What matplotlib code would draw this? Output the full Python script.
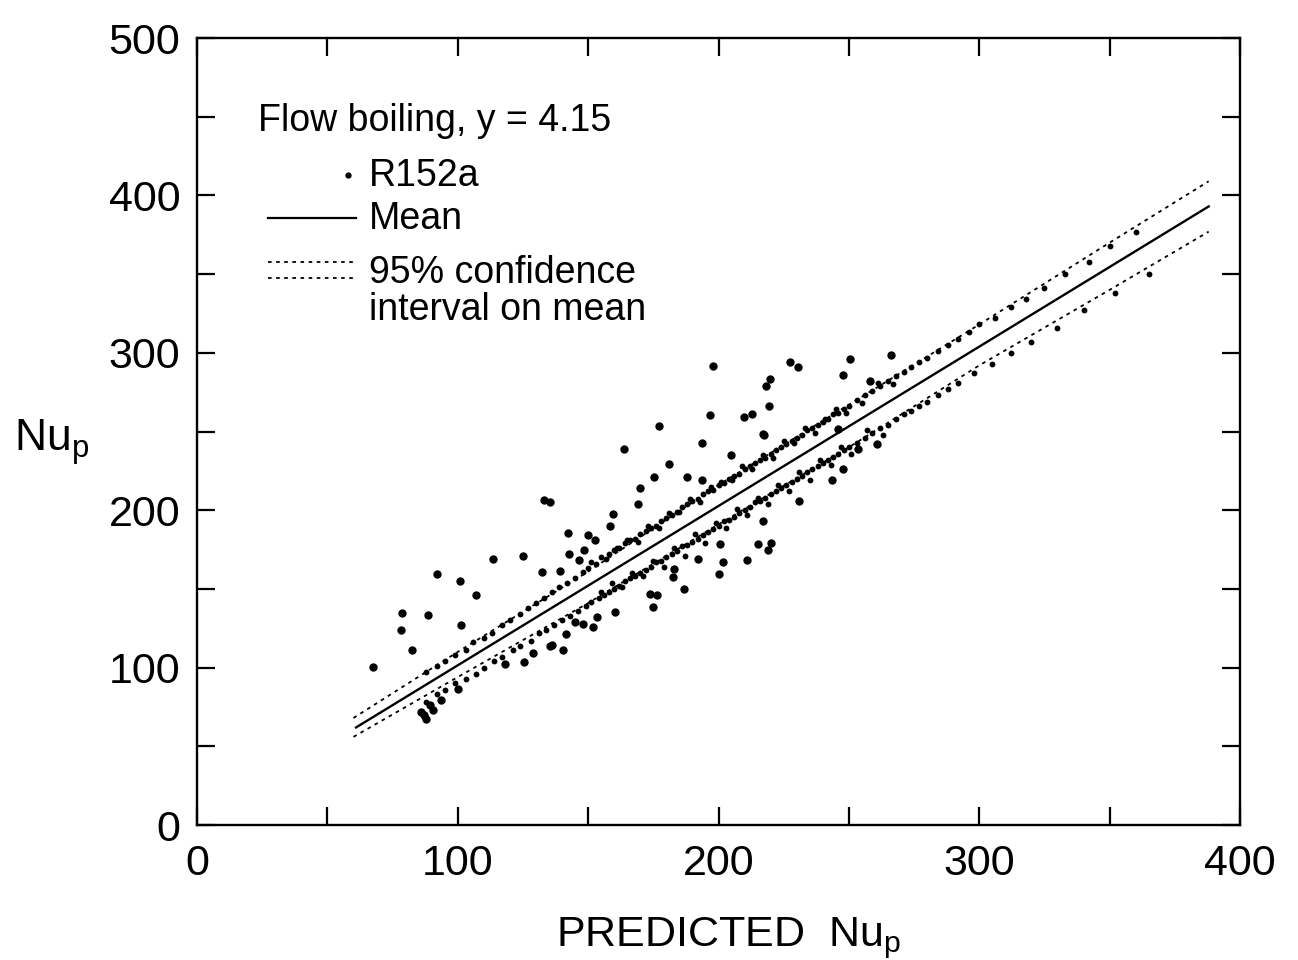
import matplotlib.pyplot as plt
from matplotlib.ticker import MultipleLocator, FuncFormatter

plt.rcParams['font.family'] = ['Liberation Sans', 'DejaVu Sans']
plt.rcParams['mathtext.fontset'] = 'custom'
plt.rcParams['mathtext.rm'] = 'Liberation Sans'

# mean line and 95% confidence interval
mean_x = [61, 388]
mean_y = [62, 393]
ci_x = [60, 100, 150, 200, 250, 300, 350, 388]
ci_upper = [68, 110, 161, 216, 267, 318, 370, 409]
ci_lower = [56, 94, 141, 191, 240, 292, 340, 377]

# scattered R152a points
scatter_x = [67.4, 78.5, 78.2, 88.5, 82.4, 92.0, 100.8, 106.9, 113.4, 124.9, 132.2, 101.1,
             87.7, 93.5, 100.0, 118.0, 125.3, 128.7, 135.2, 89.3,
             132.9, 135.5, 163.6, 177.0, 196.6, 209.6, 213.0, 217.2, 193.5, 204.6, 181.2, 175.1,
             169.7, 169.3, 159.4, 158.2, 142.1, 149.8, 152.5, 148.3, 142.5, 139.1, 146.4,
             188.1, 193.5, 200.4, 201.9, 200.0, 211.1, 215.3, 216.9, 186.6, 174.7, 176.6,
             160.2, 153.3, 151.7, 147.9, 144.8, 141.4, 136.0, 140.2, 183.1, 182.4, 173.6, 192.0,
             227.6, 230.3, 250.6, 266.3, 247.9, 219.9, 218.4, 219.2, 217.6, 258.2, 246.0,
             260.9, 253.6, 247.9, 243.7, 230.7, 220.3, 218.8, 197.7, 86.0, 87.0, 90.5]
scatter_y = [100.3, 134.5, 123.7, 133.2, 111.0, 159.3, 154.8, 145.9, 168.8, 170.7, 160.5, 126.9,
             67.3, 79.3, 86.3, 102.2, 103.4, 109.1, 113.6, 76.1,
             206.2, 205.0, 239.2, 253.8, 260.8, 259.5, 261.4, 248.7, 242.4, 235.4, 229.1, 221.4,
             213.8, 203.7, 197.3, 189.7, 185.3, 184.0, 180.8, 174.5, 172.0, 161.2, 168.1,
             220.8, 219.5, 178.3, 166.9, 159.3, 168.1, 178.3, 192.9, 149.7, 138.3, 145.9,
             135.2, 132.0, 125.6, 127.5, 128.8, 121.2, 114.2, 111.0, 162.4, 157.4, 146.6, 168.8,
             294.4, 291.2, 296.3, 298.9, 286.2, 283.6, 279.2, 265.9, 248.1, 282.4, 251.9,
             241.8, 238.6, 226.5, 219.5, 205.6, 178.9, 174.5, 291.9, 72.0, 70.0, 73.0]

# dense points lying along the upper band
upper_x = [88, 92, 95, 99, 103, 106, 110, 113, 117, 120, 124, 127, 130, 133, 136, 139, 142, 145,
           148, 150, 153, 155, 158, 160, 162, 164, 166, 168, 170, 172, 174, 176, 178, 180, 182,
           184, 186, 188, 190, 192, 194, 196, 198, 200, 202, 204, 206, 208, 210, 212, 214, 216,
           218, 220, 222, 224, 226, 228, 230, 232, 234, 236, 238, 240, 242, 244, 246, 248, 250,
           253, 256, 259, 262, 265, 268, 271, 274, 277, 280, 284, 288, 292, 296, 300, 306, 312,
           318, 325, 333, 342, 350, 360,
           151, 157, 161, 165, 169, 173, 177, 181, 185, 189, 193, 197, 201, 205, 209, 213,
           217, 221, 225, 229, 233, 237, 241, 245, 249, 255, 261, 267]
upper_y = [97, 101, 104, 108, 111, 116, 119, 122, 127, 130, 134, 138, 141, 144, 148, 151, 154, 157,
           161, 163, 166, 170, 172, 175, 176, 179, 181, 182, 185, 187, 189, 190, 193, 195, 197,
           199, 202, 204, 206, 207, 210, 212, 213, 216, 217, 220, 222, 223, 226, 228, 230, 232,
           233, 236, 238, 240, 242, 244, 246, 248, 251, 252, 254, 256, 258, 261, 262, 264, 266,
           270, 273, 276, 279, 282, 285, 288, 291, 294, 297, 301, 305, 309, 313, 318, 322, 329,
           334, 341, 350, 358, 368, 377,
           167, 169, 176, 181, 180, 190, 189, 198, 199, 207, 205, 215, 218, 219, 228, 226,
           235, 233, 244, 243, 252, 249, 258, 264, 262, 268, 281, 280]

# dense points lying along the lower band
lower_x = [88, 92, 95, 99, 103, 107, 110, 114, 117, 121, 124, 128, 131, 134, 137, 140, 143, 146,
           149, 151, 154, 156, 158, 160, 162, 164, 166, 168, 170, 172, 174, 176, 178, 180, 182,
           184, 186, 188, 190, 192, 194, 196, 198, 200, 202, 204, 206, 208, 210, 212, 214, 216,
           218, 220, 222, 224, 226, 228, 230, 232, 234, 236, 238, 240, 242, 244, 246, 248, 250,
           253, 256, 259, 262, 265, 268, 271, 274, 277, 280, 284, 288, 292, 298, 305, 312, 320,
           330, 340, 352, 365,
           155, 159, 163, 167, 171, 175, 179, 183, 187, 191, 195, 199, 203, 207, 211, 215,
           219, 223, 227, 231, 235, 239, 243, 247, 251, 257, 263]
lower_y = [78, 83, 86, 90, 93, 96, 100, 104, 107, 111, 114, 117, 122, 124, 127, 130, 133, 136,
           139, 142, 144, 146, 148, 150, 152, 155, 157, 158, 160, 162, 164, 167, 168, 170, 172,
           174, 177, 178, 180, 182, 184, 186, 188, 190, 193, 194, 196, 198, 200, 202, 205, 206,
           208, 210, 212, 214, 216, 218, 220, 222, 224, 226, 228, 230, 232, 234, 236, 238, 240,
           243, 246, 249, 252, 254, 258, 261, 263, 266, 269, 273, 277, 281, 287, 293, 300, 307,
           316, 327, 338, 350,
           148, 154, 151, 160, 158, 168, 164, 176, 171, 185, 179, 192, 189, 201, 197, 208,
           204, 216, 212, 224, 219, 232, 229, 240, 236, 251, 248]

fig = plt.figure(figsize=(12.98, 9.6), dpi=100)
ax = fig.add_axes([0.1518, 0.1406, 0.8035, 0.8198])

ax.plot(ci_x, ci_upper, color='black', lw=1.3, ls=(0, (2, 2.5)))
ax.plot(ci_x, ci_lower, color='black', lw=1.3, ls=(0, (2, 2.5)))
ax.plot(mean_x, mean_y, color='black', lw=1.7)
ax.plot(upper_x, upper_y, 'o', color='black', ms=4.2, mew=0)
ax.plot(lower_x, lower_y, 'o', color='black', ms=4.2, mew=0)
ax.plot(scatter_x, scatter_y, 'o', color='black', ms=6, mew=0)

ax.set_xlim(0, 400)
ax.set_ylim(0, 500)
for a in (ax.xaxis, ax.yaxis):
    a.set_major_locator(MultipleLocator(50))
    a.set_major_formatter(FuncFormatter(lambda v, p: '%d' % v if v % 100 == 0 else ''))
ax.tick_params(direction='in', length=13, width=1.6, top=True, right=True,
               labelsize=31)
ax.tick_params(axis='x', pad=14)
ax.tick_params(axis='y', pad=12)
for s in ax.spines.values():
    s.set_linewidth(1.7)

ax.set_xlabel(r'PREDICTED  Nu$_\mathregular{p}$', fontsize=31, labelpad=24)
ax.xaxis.set_label_coords(0.51, -0.115)
fig.text(0.011, 0.54, r'Nu$_\mathregular{p}$', fontsize=32, va='center', ha='left')

# legend drawn by hand
tr = ax.transAxes
ax.text(0.058, 0.895, 'Flow boiling, y = 4.15', transform=tr, fontsize=27, va='center')
ax.plot([0.145], [0.826], 'o', color='black', ms=3.5, transform=tr)
ax.text(0.165, 0.825, 'R152a', transform=tr, fontsize=27, va='center')
ax.plot([0.068, 0.152], [0.771, 0.771], color='black', lw=1.6, transform=tr)
ax.text(0.165, 0.770, 'Mean', transform=tr, fontsize=27, va='center')
ax.plot([0.068, 0.152], [0.715, 0.715], color='black', lw=1.3, ls=(0, (2, 2.5)), transform=tr)
ax.plot([0.068, 0.152], [0.695, 0.695], color='black', lw=1.3, ls=(0, (2, 2.5)), transform=tr)
ax.text(0.165, 0.701, '95% confidence', transform=tr, fontsize=27, va='center')
ax.text(0.165, 0.655, 'interval on mean', transform=tr, fontsize=27, va='center')

fig.savefig('out.png', dpi=100)
